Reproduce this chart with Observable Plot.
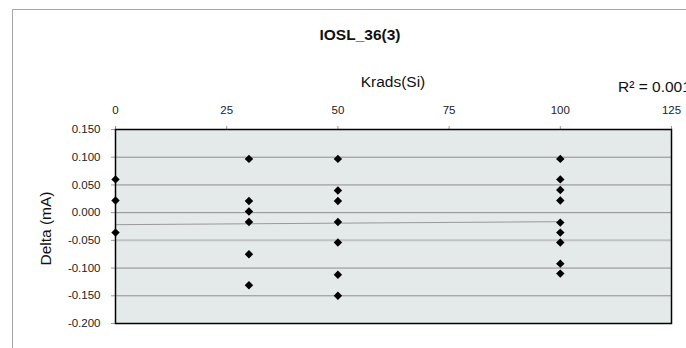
<!DOCTYPE html>
<html>
<head>
<meta charset="utf-8">
<script src="https://cdn.jsdelivr.net/npm/d3@7"></script>
<script src="https://cdn.jsdelivr.net/npm/@observablehq/plot@0.6"></script>
<style>
  html, body { margin: 0; padding: 0; background: #fff; }
  #chart svg { display: block; }
</style>
</head>
<body>
<div id="chart"></div>
<script>
// ---- data ----
const chartTitle = "IOSL_36(3)";
const xLabel = "Krads(Si)";
const yLabel = "Delta (mA)";
const r2Label = "R² = 0.001";

const delta0   = [0.060, 0.022, -0.036];
const delta30  = [0.097, 0.021, 0.002, -0.017, -0.075, -0.131];
const delta50  = [0.097, 0.040, 0.021, -0.017, -0.054, -0.112, -0.150];
const delta100 = [0.097, 0.060, 0.041, 0.022, -0.018, -0.036, -0.054, -0.092, -0.110];
const doses    = [0, 30, 50, 100];

const trendX = [0, 100];
const trendY = [-0.0217, -0.0163];

const xTicks = [0, 25, 50, 75, 100, 125];
const yTicks = [0.15, 0.10, 0.05, 0.00, -0.05, -0.10, -0.15, -0.20];
const yTickLabels = ["0.150", "0.100", "0.050", "0.000", "-0.050", "-0.100", "-0.150", "-0.200"];

// ---- build tables ----
const groups = [delta0, delta30, delta50, delta100];
const points = [];
groups.forEach((g, i) => g.forEach(v => points.push({dose: doses[i], delta: v})));
const trend = trendX.map((x, i) => ({dose: x, delta: trendY[i]}));

const W = 686, H = 348;
const font = "'Liberation Sans', Arial, sans-serif";

const gridMain = yTicks.filter(v => v < 0.149 && v > -0.199 && Math.abs(v + 0.05) > 1e-9);
const gridLight = yTicks.filter(v => Math.abs(v + 0.05) < 1e-9);

const chart = Plot.plot({
  width: W,
  height: H,
  marginLeft: 115,
  marginRight: 15,
  marginTop: 129,
  marginBottom: 25,
  style: {fontFamily: font, fontSize: "11.5px", color: "#222", background: "#fff"},
  x: {domain: [0, 125]},
  y: {domain: [-0.2, 0.15]},
  marks: [
    Plot.frame({fill: "#e4e9e9", stroke: null}),
    Plot.gridY(gridMain, {stroke: "#8e8e8e", strokeOpacity: 1, strokeWidth: 1}),
    Plot.gridY(gridLight, {stroke: "#bfc3c3", strokeOpacity: 1, strokeWidth: 2}),
    Plot.axisX({anchor: "top", ticks: xTicks, tickSize: 4, tickPadding: 12, stroke: "#999", label: null, fontSize: 11.5}),
    Plot.axisY({anchor: "left", ticks: yTicks, tickSize: 4, tickPadding: 11, stroke: "#999", label: null, fontSize: 11.5,
      tickFormat: v => yTickLabels[yTicks.findIndex(t => Math.abs(t - v) < 1e-9)]}),
    Plot.line(trend, {x: "dose", y: "delta", stroke: "#999", strokeWidth: 1}),
    Plot.dot(points, {x: "dose", y: "delta", symbol: "diamond2", r: 3.8, fill: "#000", stroke: null}),
    Plot.frame({stroke: "#000", strokeWidth: 1.5})
  ]
});

const svg = d3.select(chart);
// outer chart-area border
svg.append("path")
  .attr("d", `M12.5,${H} V9.5 H${W}`)
  .attr("fill", "none").attr("stroke", "#a6a6a6").attr("stroke-width", 1);

svg.append("text").text(chartTitle)
  .attr("x", 360).attr("y", 39.5).attr("text-anchor", "middle")
  .attr("font-family", font).attr("font-size", 15.5).attr("font-weight", "bold").attr("fill", "#111");

svg.append("text").text(xLabel)
  .attr("x", 393).attr("y", 87).attr("text-anchor", "middle")
  .attr("font-family", font).attr("font-size", 15.5).attr("fill", "#111");

svg.append("text").text(r2Label)
  .attr("x", 618).attr("y", 91.5).attr("text-anchor", "start")
  .attr("font-family", font).attr("font-size", 15.5).attr("fill", "#111");

svg.append("text").text(yLabel)
  .attr("transform", "translate(51,228.5) rotate(-90)").attr("text-anchor", "middle")
  .attr("font-family", font).attr("font-size", 15.5).attr("fill", "#111");

document.getElementById("chart").appendChild(chart);
</script>
</body>
</html>
